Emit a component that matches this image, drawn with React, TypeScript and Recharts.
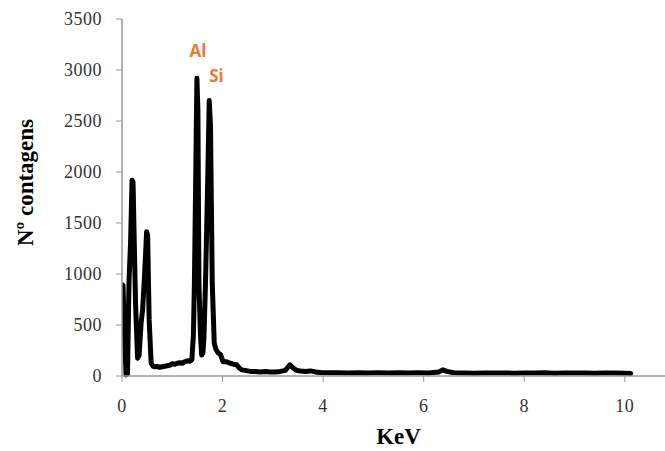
import React from 'react';
import { LineChart, Line, XAxis, YAxis, ReferenceDot, Label } from 'recharts';

// Energy (keV) of each sampled point of the EDS spectrum
const energyKeV = [
  0.0, 0.02, 0.05, 0.08, 0.11, 0.14, 0.17, 0.2, 0.22, 0.24, 0.27, 0.31, 0.34, 0.38, 0.41, 0.45,
  0.49, 0.51, 0.54, 0.58, 0.62, 0.66, 0.7, 0.75, 0.8, 0.85, 0.9, 0.95, 1.0, 1.05, 1.1, 1.15,
  1.2, 1.25, 1.3, 1.35, 1.39, 1.42, 1.44, 1.47, 1.49, 1.51, 1.53, 1.56, 1.585, 1.61, 1.63, 1.66,
  1.7, 1.735, 1.76, 1.795, 1.835, 1.87, 1.915, 1.96, 2.01, 2.08, 2.15, 2.2, 2.28, 2.33, 2.38,
  2.45, 2.55, 2.65, 2.75, 2.85, 2.95, 3.05, 3.15, 3.25, 3.34, 3.4, 3.47, 3.55, 3.65, 3.75,
  3.85, 3.95, 4.1, 4.3, 4.5, 4.7, 4.9, 5.1, 5.3, 5.5, 5.7, 5.9, 6.1, 6.3, 6.38, 6.46, 6.6,
  6.8, 7.0, 7.2, 7.4, 7.6, 7.8, 8.0, 8.2, 8.4, 8.6, 8.8, 9.0, 9.2, 9.4, 9.6, 9.8, 10.0, 10.12,
];

// Counts for each energy
const counts = [
  880, 890, 400, 10, 20, 940, 1300, 1920, 1900, 1400, 700, 175, 200, 520, 650, 1000,
  1415, 1380, 550, 125, 95, 90, 95, 85, 90, 95, 100, 105, 120, 115, 125, 130,
  125, 140, 150, 145, 160, 400, 910, 2100, 2920, 2600, 910, 400, 205, 230, 380, 900,
  1800, 2700, 2450, 910, 320, 260, 225, 210, 140, 140, 125, 118, 110, 80, 60,
  55, 45, 45, 40, 45, 40, 40, 45, 55, 110, 80, 55, 50, 45, 50,
  40, 35, 32, 33, 30, 32, 30, 31, 30, 32, 30, 31, 30, 40, 60, 45, 32,
  30, 28, 30, 29, 30, 28, 30, 29, 31, 28, 30, 29, 30, 28, 30, 29, 28, 25,
];

const xTicks = [0, 2, 4, 6, 8, 10];
const yTicks = [0, 500, 1000, 1500, 2000, 2500, 3000, 3500];

const peakNames = ['Al', 'Si'];
const peakNameKeV = [1.51, 1.88];
const peakNameCounts = [3186, 2946];

const data = energyKeV.map((e, i) => ({ keV: e, counts: counts[i] }));

const tickStyle = { fontFamily: '"Liberation Serif", "Times New Roman", serif', fontSize: 18, fill: '#333', letterSpacing: 0.5 };
const titleFont = '"Liberation Serif", "Times New Roman", serif';

export default function App() {
  return (
    <div style={{ position: 'absolute', left: 0, top: 0, width: 665, height: 451, background: '#fff' }}>
      <LineChart width={665} height={451} data={data} margin={{ top: 19, right: 0, bottom: 0, left: 0 }}>
        <XAxis
          dataKey="keV"
          type="number"
          domain={[0, 10.8]}
          ticks={xTicks}
          allowDataOverflow
          height={75}
          tick={tickStyle}
          tickSize={6}
          tickMargin={17}
          stroke="#9a9a9a"
          tickLine={{ stroke: '#9a9a9a' }}
          axisLine={{ stroke: '#9a9a9a', strokeWidth: 1.5 }}
        >
          <Label
            content={({ viewBox }: any) => (
              <text
                x={viewBox.x + viewBox.width / 2 + 5}
                y={viewBox.y + 68}
                textAnchor="middle"
                fontFamily={titleFont}
                fontWeight={700}
                fontSize={23}
                fill="#000"
              >
                KeV
              </text>
            )}
          />
        </XAxis>
        <YAxis
          type="number"
          domain={[0, 3500]}
          ticks={yTicks}
          width={122}
          tick={tickStyle}
          tickSize={6}
          tickMargin={14}
          stroke="#9a9a9a"
          tickLine={{ stroke: '#9a9a9a' }}
          axisLine={{ stroke: '#9a9a9a', strokeWidth: 1.5 }}
        >
          <Label
            content={({ viewBox }: any) => (
              <text
                transform={`translate(${viewBox.x + 33}, ${viewBox.y + viewBox.height / 2 - 15}) rotate(-90)`}
                textAnchor="middle"
                fontFamily={titleFont}
                fontWeight={700}
                fontSize={23}
                fill="#000"
              >
                Nº contagens
              </text>
            )}
          />
        </YAxis>
        <Line
          type="linear"
          dataKey="counts"
          stroke="#000"
          strokeWidth={5}
          strokeLinejoin="round"
          strokeLinecap="round"
          dot={false}
          isAnimationActive={false}
        />
        {peakNames.map((n, i) => (
          <ReferenceDot
            key={n}
            x={peakNameKeV[i]}
            y={peakNameCounts[i]}
            r={0}
            fill="none"
            stroke="none"
            label={{
              value: n,
              position: 'center',
              fill: '#EC7A2C',
              fontSize: 17,
              fontWeight: 700,
              fontFamily: '"Open Sans", sans-serif',
            }}
          />
        ))}
      </LineChart>
    </div>
  );
}
